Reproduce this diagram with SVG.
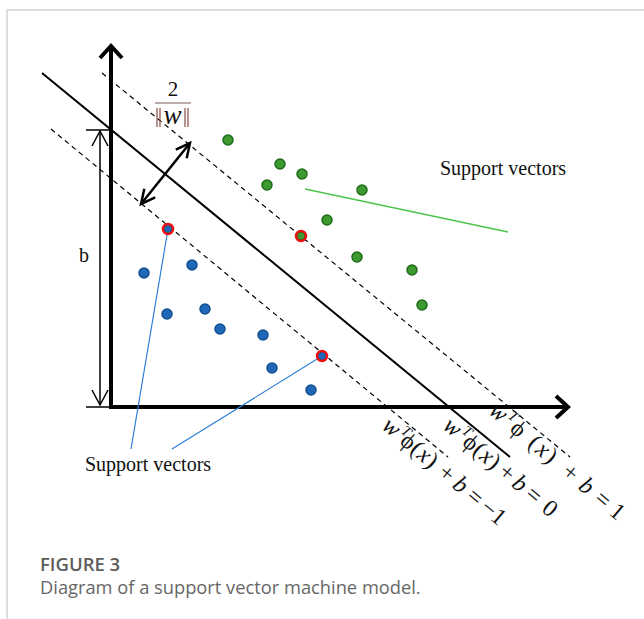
<svg xmlns="http://www.w3.org/2000/svg" width="644" height="619" viewBox="0 0 644 619">
<style>
.frame{stroke:#d4d4d4;stroke-width:1.5;fill:none}
.axis{stroke:#000;stroke-width:4;fill:none}
.hyper{stroke:#000;stroke-width:2;fill:none}
.margin{stroke:#000;stroke-width:1.2;fill:none;stroke-dasharray:5 4}
.thin{stroke:#000;stroke-width:1.5;fill:none}
.gdot{fill:#3c9a2e;stroke:#1e6b1a;stroke-width:1.5}
.bdot{fill:#1f68b8;stroke:#134f91;stroke-width:1.5}
.ring{fill:none;stroke:#f01010;stroke-width:2.5}
.bar{stroke:#8b4a44;stroke-width:1.2}
.lbl{font-family:"Liberation Serif","Times New Roman",serif;font-size:20px;fill:#111}
.eq{font-family:"Liberation Serif","DejaVu Serif",serif;font-size:24px;fill:#111;text-anchor:middle}
.it{font-style:italic}
.sup{font-size:15px;font-style:italic}
.cap1{font-family:"Open Sans","Noto Sans",sans-serif;font-size:18.5px;font-weight:600;fill:#5c5c5c}
.cap2{font-family:"Open Sans","Noto Sans",sans-serif;font-size:18.3px;fill:#666}
</style>
<defs>
<marker id="axhead" markerUnits="userSpaceOnUse" viewBox="-16 -14 20 28" markerWidth="20" markerHeight="28" refX="0" refY="0" orient="auto">
<path d="M-12,-11 L0,0 L-12,11" fill="none" stroke="#000" stroke-width="4"/>
</marker>
<marker id="open" markerUnits="userSpaceOnUse" viewBox="-16 -10 20 20" markerWidth="20" markerHeight="20" refX="0" refY="0" orient="auto-start-reverse">
<path d="M-14,-7 L0,0 L-14,7" fill="none" stroke="#000" stroke-width="2.5"/>
</marker>
<marker id="openthin" markerUnits="userSpaceOnUse" viewBox="-16 -10 20 20" markerWidth="20" markerHeight="20" refX="0" refY="0" orient="auto-start-reverse">
<path d="M-15,-8 L0,0 L-15,8" fill="none" stroke="#000" stroke-width="1.5"/>
</marker>
</defs>
<rect width="644" height="619" fill="#fff"/>
<g id="frame"><path class="frame" d="M644,10 H7 V619"/></g>

<g id="connectors">
<path id="y-axis" class="axis" d="M111,409 V46" marker-end="url(#axhead)"/>
<path id="x-axis" class="axis" d="M109,407 H568" marker-end="url(#axhead)"/>
<path id="hyperplane" class="hyper" d="M42,73 L510,457"/>
<path id="margin-plus" class="margin" d="M102,73 L570,457"/>
<path id="margin-minus" class="margin" d="M51,129 L448,457"/>
<path id="margin-arrow" stroke="#000" stroke-width="2.5" fill="none" d="M141,204 L190,143" marker-start="url(#open)" marker-end="url(#open)"/>
<path id="b-ticks" class="thin" d="M86,130 H111 M86,407 H111"/>
<path id="b-arrow" class="thin" d="M100,131 V405" marker-start="url(#openthin)" marker-end="url(#openthin)"/>
<path id="green-pointer" stroke="#4cc44c" stroke-width="1.3" fill="none" d="M305,189 L508,232"/>
<path id="blue-pointer-1" stroke="#2f7fd8" stroke-width="1.2" fill="none" d="M168,229 L131,449"/>
<path id="blue-pointer-2" stroke="#2f7fd8" stroke-width="1.2" fill="none" d="M322,356 L172,449"/>
</g>

<g id="green-points">
<circle class="gdot" cx="228" cy="140" r="5"/>
<circle class="gdot" cx="280" cy="164" r="5"/>
<circle class="gdot" cx="302" cy="174" r="5"/>
<circle class="gdot" cx="267" cy="185" r="5"/>
<circle class="gdot" cx="362" cy="190" r="5"/>
<circle class="gdot" cx="327" cy="220" r="5"/>
<circle class="gdot" cx="357" cy="257" r="5"/>
<circle class="gdot" cx="412" cy="270" r="5"/>
<circle class="gdot" cx="422" cy="305" r="5"/>
</g>
<g id="blue-points">
<circle class="bdot" cx="144" cy="273" r="5"/>
<circle class="bdot" cx="192" cy="265" r="5"/>
<circle class="bdot" cx="167" cy="314" r="5"/>
<circle class="bdot" cx="205" cy="309" r="5"/>
<circle class="bdot" cx="220" cy="329" r="5"/>
<circle class="bdot" cx="263" cy="335" r="5"/>
<circle class="bdot" cx="272" cy="368" r="5"/>
<circle class="bdot" cx="311" cy="390" r="5"/>
</g>
<g id="support-vector-points">
<circle class="gdot" cx="301" cy="236" r="4" stroke="none"/>
<circle class="ring" cx="301" cy="236" r="5"/>
<circle class="bdot" cx="168" cy="229" r="4" stroke="none"/>
<circle class="ring" cx="168" cy="229" r="5"/>
<circle class="bdot" cx="322" cy="356" r="4" stroke="none"/>
<circle class="ring" cx="322" cy="356" r="5"/>
</g>

<g id="margin-label">
<text class="lbl" x="173" y="96" text-anchor="middle" style="font-size:21px">2</text>
<line x1="155" y1="103" x2="191" y2="103" stroke="#7a5a55" stroke-width="1.2"/>
<line class="bar" x1="157" y1="108" x2="157" y2="127"/>
<line class="bar" x1="160" y1="108" x2="160" y2="127"/>
<line class="bar" x1="185" y1="108" x2="185" y2="127"/>
<line class="bar" x1="188" y1="108" x2="188" y2="127"/>
<text class="lbl it" x="172.5" y="124" text-anchor="middle" style="font-size:27px">w</text>
</g>
<g id="b-label"><text class="lbl" x="79" y="262">b</text></g>
<g id="support-label-top"><text class="lbl" x="440" y="175">Support vectors</text></g>
<g id="support-label-bottom"><text class="lbl" x="85" y="471">Support vectors</text></g>

<g id="eq-plus">
<text class="eq" transform="translate(497,414) rotate(40)"><tspan class="it" x="0" y="5">w</tspan><tspan class="sup" x="14" y="-4">T</tspan><tspan x="26" y="5">ϕ</tspan><tspan x="47" y="5">(</tspan><tspan class="it" x="58" y="5">x</tspan><tspan x="69" y="5">)</tspan><tspan x="94" y="5">+</tspan><tspan class="it" x="115" y="5">b</tspan><tspan x="136" y="5">=</tspan><tspan x="155" y="5">1</tspan></text>
</g>
<g id="eq-zero">
<text class="eq" transform="translate(451,429) rotate(40)"><tspan class="it" x="0" y="5">w</tspan><tspan class="sup" x="14" y="-4">T</tspan><tspan x="24" y="5">ϕ</tspan><tspan x="35" y="5">(</tspan><tspan class="it" x="45" y="5">x</tspan><tspan x="55" y="5">)</tspan><tspan x="71" y="5">+</tspan><tspan class="it" x="88" y="5">b</tspan><tspan x="106" y="5">=</tspan><tspan x="127" y="5">0</tspan></text>
</g>
<g id="eq-minus">
<text class="eq" transform="translate(390,429) rotate(40)"><tspan class="it" x="0" y="5">w</tspan><tspan class="sup" x="14" y="-4">T</tspan><tspan x="22" y="5">ϕ</tspan><tspan x="33" y="5">(</tspan><tspan class="it" x="43" y="5">x</tspan><tspan x="53" y="5">)</tspan><tspan x="72" y="5">+</tspan><tspan class="it" x="90" y="5">b</tspan><tspan x="109" y="5">=</tspan><tspan x="133" y="5">−1</tspan></text>
</g>

<g id="caption">
<text class="cap1" x="40" y="571">FIGURE 3</text>
<text class="cap2" x="40" y="594">Diagram of a support vector machine model.</text>
</g>
</svg>
